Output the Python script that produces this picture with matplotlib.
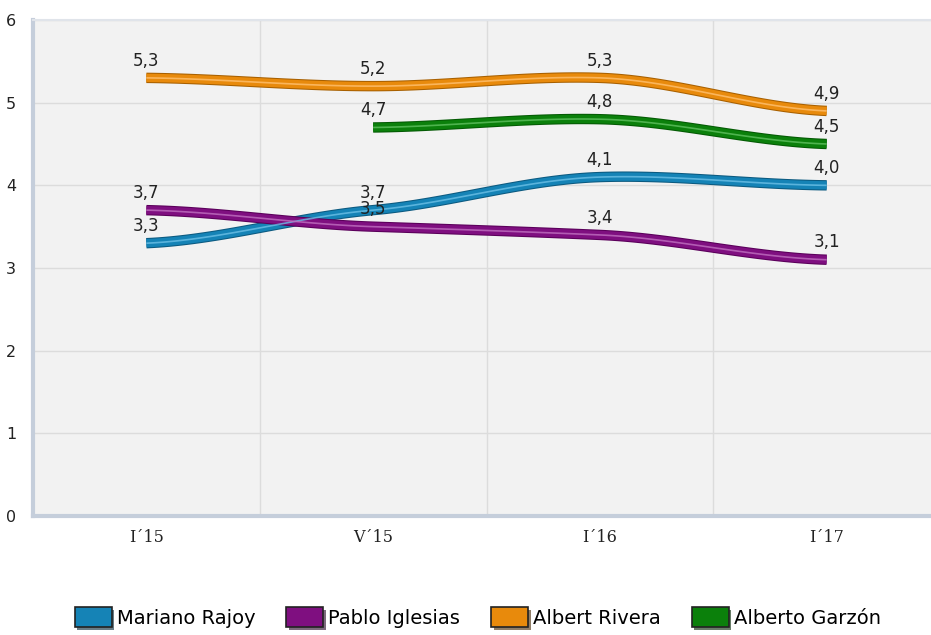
import numpy as np
import matplotlib
matplotlib.use('Agg')
import matplotlib.pyplot as plt
from matplotlib.patches import Patch
import matplotlib.patheffects as pe

# data
periods = ['I´15', 'V´15', 'I´16', 'I´17']
rajoy = [3.3, 3.7, 4.1, 4.0]
iglesias = [3.7, 3.5, 3.4, 3.1]
rivera = [5.3, 5.2, 5.3, 4.9]
garzon = [np.nan, 4.7, 4.8, 4.5]

names = ['Mariano Rajoy', 'Pablo Iglesias', 'Albert Rivera', 'Alberto Garzón']
series = [rajoy, iglesias, rivera, garzon]
colors = ['#1583b6', '#7f0f80', '#e88a0c', '#0b800b']
edges = ['#0c5a80', '#5a005a', '#a86000', '#045a04']
lights = ['#6cc0e6', '#c070c0', '#ffc070', '#60c060']


def smooth(x, y, n=40, k=0.6):
    # soft cardinal curve through the points, for drawing only
    x = np.asarray(x, float)
    y = np.asarray(y, float)
    xs, ys = [], []
    for i in range(len(x) - 1):
        y0 = y[i - 1] if i > 0 else y[i]
        y3 = y[i + 2] if i + 2 < len(y) else y[i + 1]
        t = np.linspace(0, 1, n)
        m1 = k * (y[i + 1] - y0) / 2
        m2 = k * (y3 - y[i]) / 2
        h00 = 2 * t**3 - 3 * t**2 + 1
        h10 = t**3 - 2 * t**2 + t
        h01 = -2 * t**3 + 3 * t**2
        h11 = t**3 - t**2
        xs.append(x[i] + t * (x[i + 1] - x[i]))
        ys.append(h00 * y[i] + h10 * m1 + h01 * y[i + 1] + h11 * m2)
    return np.concatenate(xs), np.concatenate(ys)


fig = plt.figure(figsize=(9.31, 6.35), dpi=100)
ax = fig.add_axes([0.0354, 0.1874, 0.9646, 0.7811])
ax.set_facecolor('#f2f2f2')

xpos = np.arange(len(periods))
for vals, c, ec, lc in zip(series, colors, edges, lights):
    v = np.array(vals, float)
    ok = ~np.isnan(v)
    sx, sy = smooth(xpos[ok], v[ok])
    ax.plot(sx, sy, color=c, lw=6, solid_capstyle='butt', zorder=3,
            path_effects=[pe.Stroke(linewidth=7.5, foreground=ec), pe.Normal()])
    ax.plot(sx, sy, color=lc, lw=1.2, solid_capstyle='butt', zorder=4, alpha=0.8)
    for xi, yi in zip(xpos[ok], v[ok]):
        ax.annotate(f'{yi:.1f}'.replace('.', ','), (xi, yi), xytext=(0, 6),
                    textcoords='offset points', ha='center', va='bottom',
                    fontsize=12, color='#222222', zorder=5)

ax.set_xlim(-0.5, 3.46)
ax.set_ylim(0, 6)
ax.set_xticks(xpos)
ax.set_xticklabels(periods, family='DejaVu Serif', fontsize=11.5, color='#222222')
ax.set_xticks([0.5, 1.5, 2.5], minor=True)
ax.set_yticks(range(7))
ax.tick_params(axis='y', length=0, labelsize=11.5, pad=12, colors='#222222')
ax.tick_params(axis='x', which='both', length=0, pad=9)
ax.grid(True, axis='y', color='#dcdcdc', lw=1)
ax.grid(True, axis='x', which='minor', color='#dcdcdc', lw=1)
ax.set_axisbelow(True)
ax.spines['right'].set_visible(False)
ax.spines['top'].set_color('#e0e4ea')
ax.spines['top'].set_linewidth(1.5)
ax.spines['left'].set_color('#c5cedb')
ax.spines['left'].set_linewidth(3)
ax.spines['bottom'].set_color('#c5cedb')
ax.spines['bottom'].set_linewidth(3)

handles = [Patch(facecolor=c, edgecolor='#222222', lw=1.2,
                 path_effects=[pe.SimplePatchShadow(offset=(2, -2), alpha=0.6), pe.Normal()])
           for c in colors]
fig.legend(handles, names, loc='lower center', bbox_to_anchor=(0.513, -0.016), ncol=4,
           frameon=False, fontsize=14, handlelength=1.9, handleheight=1.2,
           handletextpad=0.25, columnspacing=1.6)

fig.savefig('out.png', dpi=100)
